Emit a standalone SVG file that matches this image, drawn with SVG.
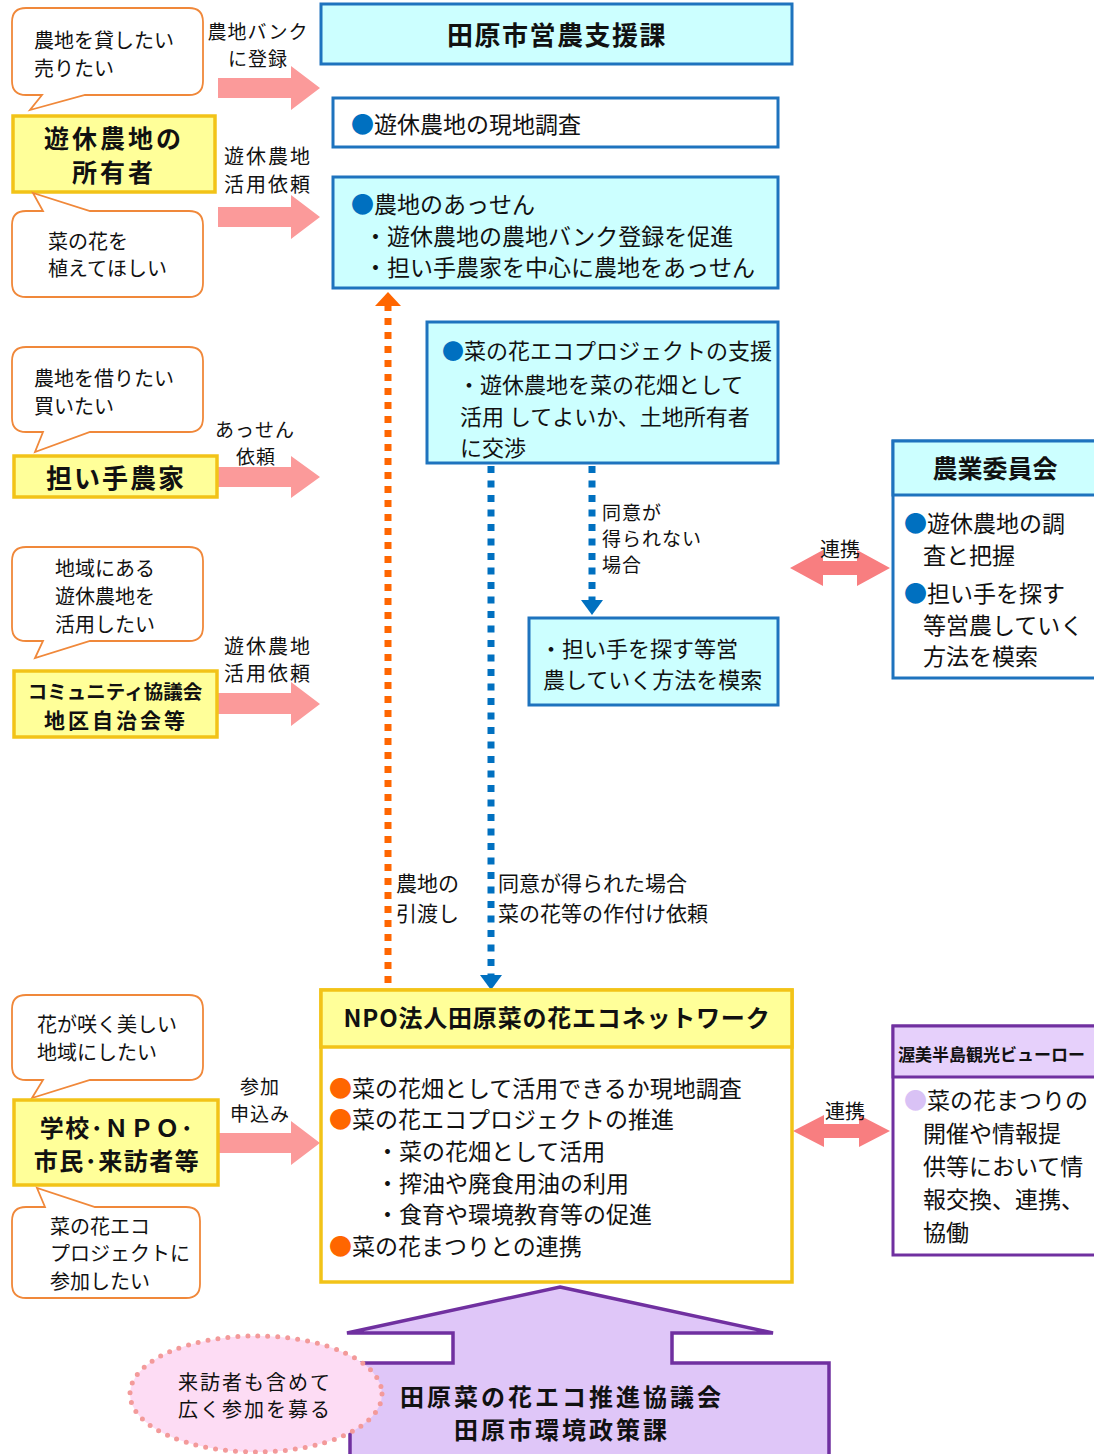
<svg xmlns="http://www.w3.org/2000/svg" width="1094" height="1454" viewBox="0 0 1094 1454">
<defs>
<style>
text{font-family:"Noto Sans CJK JP","Noto Sans",sans-serif;fill:#111;dominant-baseline:central}
.b{font-weight:bold}
.c{text-anchor:middle}
.cy{fill:#ccffff;stroke:#1e73be;stroke-width:3}
.wb{fill:#ffffff;stroke:#1e73be;stroke-width:3}
.yl{fill:#ffff99;stroke:#f2c318;stroke-width:3.5}
.bub{fill:#ffffff;stroke:#f0883a;stroke-width:1.8}
.pk{fill:#fb9a9a}
.dk{fill:#f87e80}
.bl{fill:#0070c0}
.or{fill:#ff6600}
.t19{font-size:19px;letter-spacing:1px}
.t20{font-size:20px}
.t21{font-size:21px}
.t22{font-size:22px}
.t23{font-size:23px}
</style>
</defs>

<g id="connectors">
  <polygon class="pk" points="218,78 291,78 291,66 320,88 291,110 291,98 218,98"/>
  <polygon class="pk" points="218,207 291,207 291,195 320,217 291,239 291,227 218,227"/>
  <polygon class="pk" points="218,467 291,467 291,456 320,477 291,498 291,487 218,487"/>
  <polygon class="pk" points="218,693 291,693 291,682 320,704 291,726 291,714 218,714"/>
  <polygon class="pk" points="218,1133 291,1133 291,1121 320,1143 291,1165 291,1153 218,1153"/>
  <polygon class="dk" points="790,568 823,550 823,561 857,561 857,550 890,568 857,586 857,575 823,575 823,586"/>
  <polygon class="dk" points="793,1131 824,1115 824,1124 859,1124 859,1115 890,1131 859,1147 859,1138 824,1138 824,1147"/>
  <line x1="388" y1="983" x2="388" y2="306" stroke="#ff6600" stroke-width="7" stroke-dasharray="7 7"/>
  <polygon class="or" points="388,292 401,306 375,306"/>
  <line x1="491" y1="466" x2="491" y2="975" stroke="#0070c0" stroke-width="7" stroke-dasharray="7 7.5"/>
  <polygon class="bl" points="491,990 502,975 480,975"/>
  <line x1="592" y1="466" x2="592" y2="600" stroke="#0070c0" stroke-width="7" stroke-dasharray="7 7.5"/>
  <polygon class="bl" points="592,615 603,600 581,600"/>
  <text class="t19 c"><tspan x="258" y="30">農地バンク</tspan><tspan x="258" y="57">に登録</tspan></text>
  <text class="t20 c" style="letter-spacing:2px"><tspan x="268" y="155">遊休農地</tspan><tspan x="268" y="183">活用依頼</tspan></text>
  <text class="t19 c"><tspan x="255" y="428">あっせん</tspan><tspan x="256" y="455">依頼</tspan></text>
  <text class="t20 c" style="letter-spacing:2px"><tspan x="268" y="645">遊休農地</tspan><tspan x="268" y="672">活用依頼</tspan></text>
  <text class="t19 c"><tspan x="260" y="1085">参加</tspan><tspan x="260" y="1112">申込み</tspan></text>
  <text class="t20 c" x="840" y="548">連携</text>
  <text class="t20 c" x="845" y="1110">連携</text>
  <text class="t19"><tspan x="602" y="511">同意が</tspan><tspan x="602" y="537">得られない</tspan><tspan x="602" y="563">場合</tspan></text>
  <text class="t21"><tspan x="396" y="882">農地の</tspan><tspan x="396" y="912">引渡し</tspan></text>
  <text class="t21"><tspan x="498" y="882">同意が得られた場合</tspan><tspan x="498" y="912">菜の花等の作付け依頼</tspan></text>
</g>

<g id="n-eino">
  <rect class="cy" x="321" y="4" width="471" height="60"/>
  <text class="b c" x="557" y="33" style="font-size:26px;letter-spacing:1.5px">田原市営農支援課</text>
</g>

<g id="n-chosa">
  <rect class="wb" x="333" y="98" width="445" height="49"/>
  <text class="t23" x="351" y="123"><tspan fill="#0070c0">●</tspan>遊休農地の現地調査</text>
</g>

<g id="n-assen">
  <rect class="cy" x="333" y="177" width="445" height="111"/>
  <text class="t23"><tspan x="351" y="203" fill="#0070c0">●</tspan><tspan>農地のあっせん</tspan><tspan x="364" y="235">・遊休農地の農地バンク登録を促進</tspan><tspan x="364" y="266">・担い手農家を中心に農地をあっせん</tspan></text>
</g>

<g id="n-eco-shien">
  <rect class="cy" x="427" y="322" width="351" height="141"/>
  <text class="t22"><tspan x="442" y="349" fill="#0070c0">●</tspan><tspan>菜の花エコプロジェクトの支援</tspan><tspan x="458" y="383">・遊休農地を菜の花畑として</tspan><tspan x="460" y="415">活用 してよいか、土地所有者</tspan><tspan x="460" y="446">に交渉</tspan></text>
</g>

<g id="n-mosaku">
  <rect class="cy" x="529" y="618" width="249" height="87"/>
  <text class="t22"><tspan x="540" y="647">・担い手を探す等営</tspan><tspan x="543" y="678">農していく方法を模索</tspan></text>
</g>

<g id="n-nogyo-iinkai">
  <rect x="893" y="441" width="210" height="237" fill="#ffffff" stroke="#1e73be" stroke-width="3"/>
  <rect x="893" y="441" width="210" height="54" fill="#ccffff" stroke="#1e73be" stroke-width="3"/>
  <text class="b c" x="995" y="467" style="font-size:25px">農業委員会</text>
  <text class="t23"><tspan x="904" y="522" fill="#0070c0">●</tspan><tspan>遊休農地の調</tspan><tspan x="923" y="554">査と把握</tspan><tspan x="904" y="592" fill="#0070c0">●</tspan><tspan>担い手を探す</tspan><tspan x="923" y="624">等営農していく</tspan><tspan x="923" y="655">方法を模索</tspan></text>
</g>

<g id="n-owner">
  <path class="bub" d="M26,8 H189 Q203,8 203,22 V81 Q203,95 189,95 H85 L30,110 L42,95 H26 Q12,95 12,81 V22 Q12,8 26,8 Z"/>
  <text class="t20"><tspan x="34" y="39">農地を貸したい</tspan><tspan x="34" y="67">売りたい</tspan></text>
  <rect class="yl" x="13" y="116" width="202" height="76"/>
  <text class="b c" style="font-size:25px;letter-spacing:3px"><tspan x="114" y="137">遊休農地の</tspan><tspan x="114" y="171">所有者</tspan></text>
  <path class="bub" d="M26,211 H43 L33,193 L90,211 H189 Q203,211 203,225 V283 Q203,297 189,297 H26 Q12,297 12,283 V225 Q12,211 26,211 Z"/>
  <text class="t20"><tspan x="48" y="240">菜の花を</tspan><tspan x="48" y="267">植えてほしい</tspan></text>
</g>

<g id="n-ninaite">
  <path class="bub" d="M26,347 H189 Q203,347 203,361 V418 Q203,432 189,432 H90 L35,452 L43,432 H26 Q12,432 12,418 V361 Q12,347 26,347 Z"/>
  <text class="t20"><tspan x="34" y="377">農地を借りたい</tspan><tspan x="34" y="405">買いたい</tspan></text>
  <rect class="yl" x="14" y="456" width="203" height="41"/>
  <text class="b c" x="116" y="476" style="font-size:26px;letter-spacing:2px">担い手農家</text>
</g>

<g id="n-community">
  <path class="bub" d="M26,547 H189 Q203,547 203,561 V627 Q203,641 189,641 H90 L35,658 L43,641 H26 Q12,641 12,627 V561 Q12,547 26,547 Z"/>
  <text class="t20"><tspan x="55" y="567">地域にある</tspan><tspan x="55" y="595">遊休農地を</tspan><tspan x="55" y="623">活用したい</tspan></text>
  <rect class="yl" x="14" y="671" width="203" height="66"/>
  <text class="b c"><tspan x="115" y="690" style="font-size:19.5px">コミュニティ協議会</tspan><tspan x="116" y="719" style="font-size:21px;letter-spacing:3px">地区自治会等</tspan></text>
</g>

<g id="n-shimin">
  <path class="bub" d="M26,995 H189 Q203,995 203,1009 V1066 Q203,1080 189,1080 H90 L32,1098 L43,1080 H26 Q12,1080 12,1066 V1009 Q12,995 26,995 Z"/>
  <text class="t20"><tspan x="37" y="1023">花が咲く美しい</tspan><tspan x="37" y="1051">地域にしたい</tspan></text>
  <rect class="yl" x="14" y="1100" width="204" height="85"/>
  <text class="b c" style="font-size:24px;letter-spacing:1.5px"><tspan x="117" y="1126">学校･ＮＰＯ･</tspan><tspan x="117" y="1159">市民･来訪者等</tspan></text>
  <path class="bub" d="M26,1207 H45 L37,1188 L95,1207 H186 Q200,1207 200,1221 V1284 Q200,1298 186,1298 H26 Q12,1298 12,1284 V1221 Q12,1207 26,1207 Z"/>
  <text class="t20"><tspan x="50" y="1225">菜の花エコ</tspan><tspan x="50" y="1252">プロジェクトに</tspan><tspan x="50" y="1280">参加したい</tspan></text>
</g>

<g id="n-npo">
  <rect x="321" y="990" width="471" height="292" fill="#ffffff" stroke="#f2c318" stroke-width="3.5"/>
  <rect x="321" y="990" width="471" height="57" fill="#ffff99" stroke="#f2c318" stroke-width="3.5"/>
  <text class="b c" x="557" y="1016" style="font-size:24px;letter-spacing:0.8px">NPO法人田原菜の花エコネットワーク</text>
  <text class="t23"><tspan x="329" y="1087" fill="#ff6600">●</tspan><tspan>菜の花畑として活用できるか現地調査</tspan><tspan x="329" y="1118" fill="#ff6600">●</tspan><tspan>菜の花エコプロジェクトの推進</tspan><tspan x="376" y="1150">・菜の花畑として活用</tspan><tspan x="376" y="1182">・搾油や廃食用油の利用</tspan><tspan x="376" y="1213">・食育や環境教育等の促進</tspan><tspan x="329" y="1245" fill="#ff6600">●</tspan><tspan>菜の花まつりとの連携</tspan></text>
</g>

<g id="n-bureau">
  <rect x="893" y="1026" width="210" height="229" fill="#ffffff" stroke="#7030a0" stroke-width="3"/>
  <rect x="893" y="1026" width="210" height="51" fill="#e6d0fb" stroke="#7030a0" stroke-width="3"/>
  <text class="b" x="898" y="1053" style="font-size:17px">渥美半島観光ビューロー</text>
  <text class="t23"><tspan x="904" y="1099" fill="#d9c2f5">●</tspan><tspan>菜の花まつりの</tspan><tspan x="923" y="1132">開催や情報提</tspan><tspan x="923" y="1165">供等において情</tspan><tspan x="923" y="1198">報交換、連携、</tspan><tspan x="923" y="1231">協働</tspan></text>
</g>

<g id="n-kyogikai">
  <polygon points="560,1287 773,1333 672,1333 672,1363 829,1363 829,1458 350,1458 350,1363 453,1363 453,1333 347,1333" fill="#dfc6f8" stroke="#7030a0" stroke-width="3.5"/>
  <text class="b c" style="font-size:24px;letter-spacing:3px"><tspan x="562" y="1395">田原菜の花エコ推進協議会</tspan><tspan x="562" y="1428">田原市環境政策課</tspan></text>
</g>

<g id="n-boshu">
  <ellipse cx="256" cy="1394" rx="126" ry="58" fill="#fddcf4" stroke="#f39a9a" stroke-width="5" stroke-linecap="round" stroke-dasharray="0 10"/>
  <text class="c" style="font-size:20px;letter-spacing:2px"><tspan x="255" y="1381">来訪者も含めて</tspan><tspan x="255" y="1408">広く参加を募る</tspan></text>
</g>
</svg>
